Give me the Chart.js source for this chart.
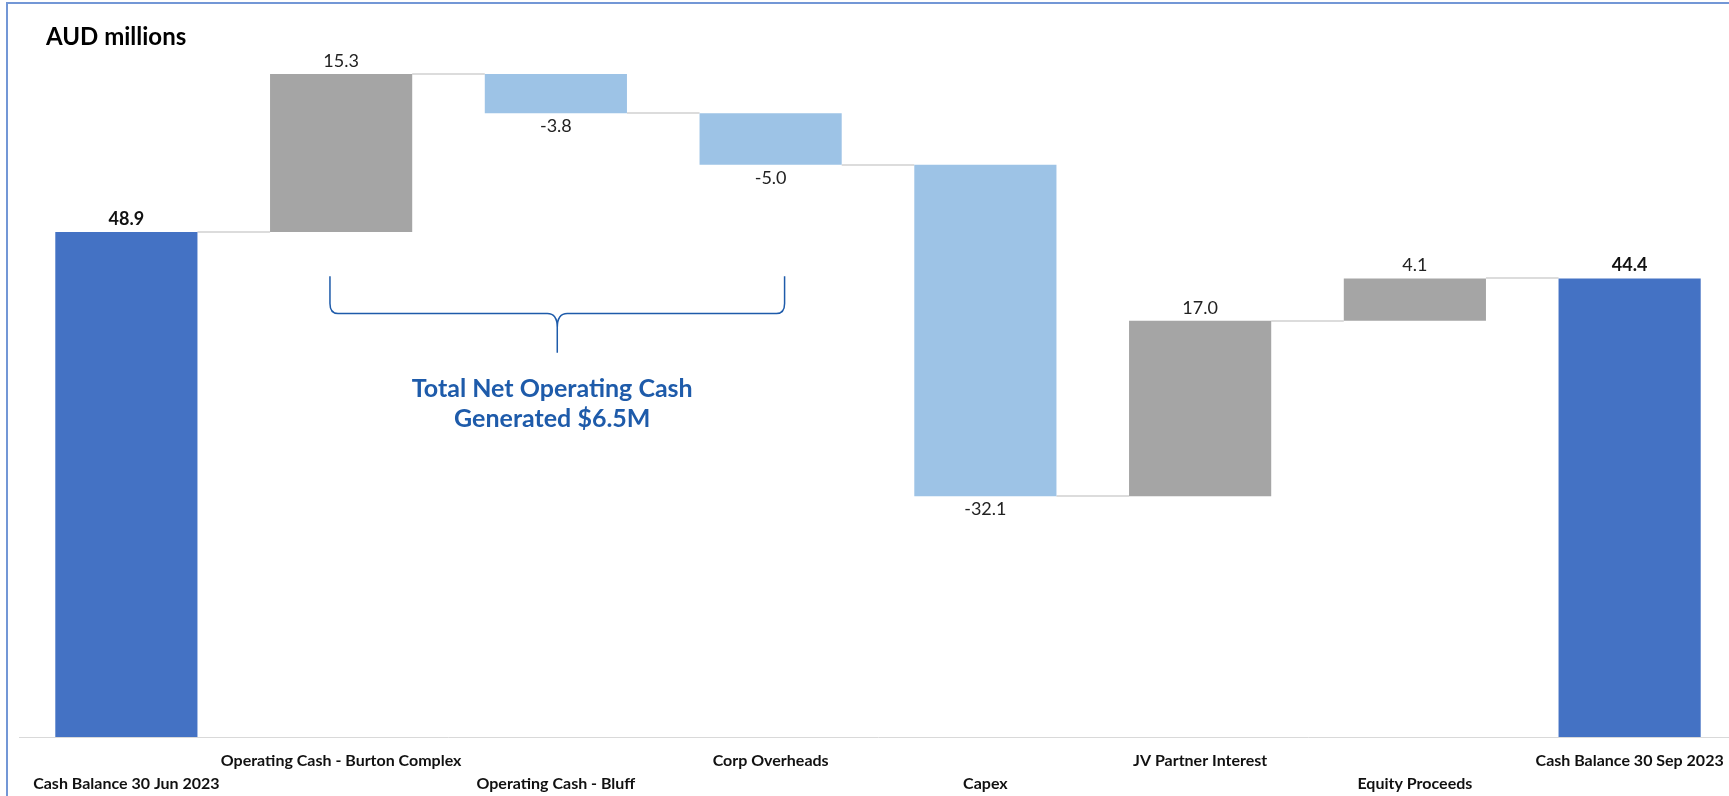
<!DOCTYPE html>
<html><head><meta charset="utf-8">
<script src="https://cdn.jsdelivr.net/npm/chart.js@4.4.0/dist/chart.umd.min.js"></script>
<style>
html,body{margin:0;padding:0;background:#fff;overflow:hidden;width:1729px;height:796px;}
#frame{position:absolute;left:6px;top:2px;width:1800px;height:900px;border:2px solid #7397D6;box-sizing:border-box;}
#wrap{position:absolute;left:0;top:0;width:1760px;height:796px;}
</style></head><body>
<div id="frame"></div>
<div id="wrap"><canvas id="c" width="1760" height="796" style="width:1760px;height:796px"></canvas></div>
<script>
const categories = [
  'Cash Balance 30 Jun 2023',
  'Operating Cash - Burton Complex',
  'Operating Cash - Bluff',
  'Corp Overheads',
  'Capex',
  'JV Partner Interest',
  'Equity Proceeds',
  'Cash Balance 30 Sep 2023'
];
const openingBalance = 48.9;
const changes = [15.3, -3.8, -5.0, -32.1, 17.0, 4.1];
const closingBalance = 44.4;
const yTicks = { min: 0, max: 70 };
const titleText = 'AUD millions';
const annotationLines = ['Total Net Operating Cash', 'Generated $6.5M'];

const COLORS = { total: '#4472C4', up: '#A5A5A5', down: '#9DC3E6' };

// build floating ranges from the data
const ranges = [];
const kinds = [];
const labelsTxt = [];
const levels = [];
let running = openingBalance;
ranges.push([0, openingBalance]); kinds.push('total'); labelsTxt.push(openingBalance.toFixed(1)); levels.push(openingBalance);
changes.forEach(c => {
  ranges.push([running, running + c]);
  kinds.push(c >= 0 ? 'up' : 'down');
  labelsTxt.push(c.toFixed(1));
  running = running + c;
  levels.push(running);
});
ranges.push([0, closingBalance]); kinds.push('total'); labelsTxt.push(closingBalance.toFixed(1)); levels.push(closingBalance);

const FONT = 'Lato, "Open Sans", sans-serif';

const overlay = {
  id: 'overlay',
  beforeDatasetsDraw(chart) {
    const ctx = chart.ctx;
    const meta = chart.getDatasetMeta(0);
    const y = chart.scales.y;
    ctx.save();
    ctx.strokeStyle = '#DCDCDC';
    ctx.lineWidth = 2;
    for (let i = 0; i < meta.data.length - 1; i++) {
      const a = meta.data[i], b = meta.data[i + 1];
      const py = Math.round(y.getPixelForValue(levels[i]));
      ctx.beginPath();
      ctx.moveTo(a.x + a.width / 2, py);
      ctx.lineTo(b.x - b.width / 2, py);
      ctx.stroke();
    }
    ctx.restore();
  },
  afterDatasetsDraw(chart) {
    const ctx = chart.ctx;
    const meta = chart.getDatasetMeta(0);
    const x = chart.scales.x;
    const y = chart.scales.y;
    const area = chart.chartArea;
    ctx.save();
    // value labels
    ctx.textAlign = 'center';
    ctx.textBaseline = 'middle';
    meta.data.forEach((bar, i) => {
      const r = ranges[i];
      const top = Math.max(r[0], r[1]), bot = Math.min(r[0], r[1]);
      if (kinds[i] === 'total') {
        ctx.font = 'bold 18px ' + FONT; ctx.fillStyle = '#111';
        ctx.fillText(labelsTxt[i], bar.x, y.getPixelForValue(top) - 13);
      } else if (kinds[i] === 'up') {
        ctx.font = '18px ' + FONT; ctx.fillStyle = '#222';
        ctx.fillText(labelsTxt[i], bar.x, y.getPixelForValue(top) - 13);
      } else {
        ctx.font = '18px ' + FONT; ctx.fillStyle = '#222';
        ctx.fillText(labelsTxt[i], bar.x, y.getPixelForValue(bot) + 13);
      }
    });
    // category labels, staggered in two rows
    ctx.font = 'bold 16px ' + FONT; ctx.fillStyle = '#111';
    categories.forEach((c, i) => {
      const px = x.getPixelForValue(i);
      const py = area.bottom + (i % 2 === 1 ? 24 : 47);
      ctx.fillText(c, px, py);
    });
    // title
    ctx.textAlign = 'left';
    ctx.font = 'bold 24px ' + FONT; ctx.fillStyle = '#000';
    ctx.fillText(titleText, 46, 37);
    // brace annotation spanning the operating items
    const step = x.getPixelForValue(1) - x.getPixelForValue(0);
    const L = x.getPixelForValue(1) - 0.052 * step;
    const R = x.getPixelForValue(3) + 0.065 * step;
    const M = (L + R) / 2;
    const yTop = y.getPixelForValue(44.6);
    const yMid = y.getPixelForValue(41.0);
    const yTip = y.getPixelForValue(37.2);
    const col = '#1E5BAA';
    ctx.strokeStyle = col; ctx.lineWidth = 1.5;
    ctx.beginPath();
    ctx.moveTo(L, yTop);
    ctx.lineTo(L, yMid - 10);
    ctx.quadraticCurveTo(L, yMid, L + 8, yMid);
    ctx.lineTo(M - 10, yMid);
    ctx.quadraticCurveTo(M, yMid, M, yMid + 14);
    ctx.lineTo(M, yTip);
    ctx.moveTo(R, yTop);
    ctx.lineTo(R, yMid - 10);
    ctx.quadraticCurveTo(R, yMid, R - 8, yMid);
    ctx.lineTo(M + 10, yMid);
    ctx.quadraticCurveTo(M, yMid, M, yMid + 14);
    ctx.stroke();
    ctx.textAlign = 'center';
    ctx.font = 'bold 25px ' + FONT; ctx.fillStyle = col;
    ctx.fillText(annotationLines[0], M - 5, y.getPixelForValue(33.7));
    ctx.fillText(annotationLines[1], M - 5, y.getPixelForValue(30.8));
    ctx.restore();
  }
};

new Chart(document.getElementById('c'), {
  type: 'bar',
  data: {
    labels: categories,
    datasets: [{
      data: ranges,
      backgroundColor: kinds.map(k => COLORS[k]),
      borderWidth: 0,
      categoryPercentage: 1.0,
      barPercentage: 0.662
    }]
  },
  options: {
    responsive: false,
    animation: false,
    devicePixelRatio: 1,
    layout: { padding: { left: 19, right: 23, top: 14, bottom: 59 } },
    plugins: { legend: { display: false }, tooltip: { enabled: false } },
    scales: {
      x: {
        display: true,
        grid: { display: false, drawTicks: false },
        ticks: { display: false },
        border: { display: true, color: '#D9D9D9', width: 1 }
      },
      y: {
        display: false,
        min: yTicks.min,
        max: yTicks.max
      }
    }
  },
  plugins: [overlay]
});
</script>
</body></html>
